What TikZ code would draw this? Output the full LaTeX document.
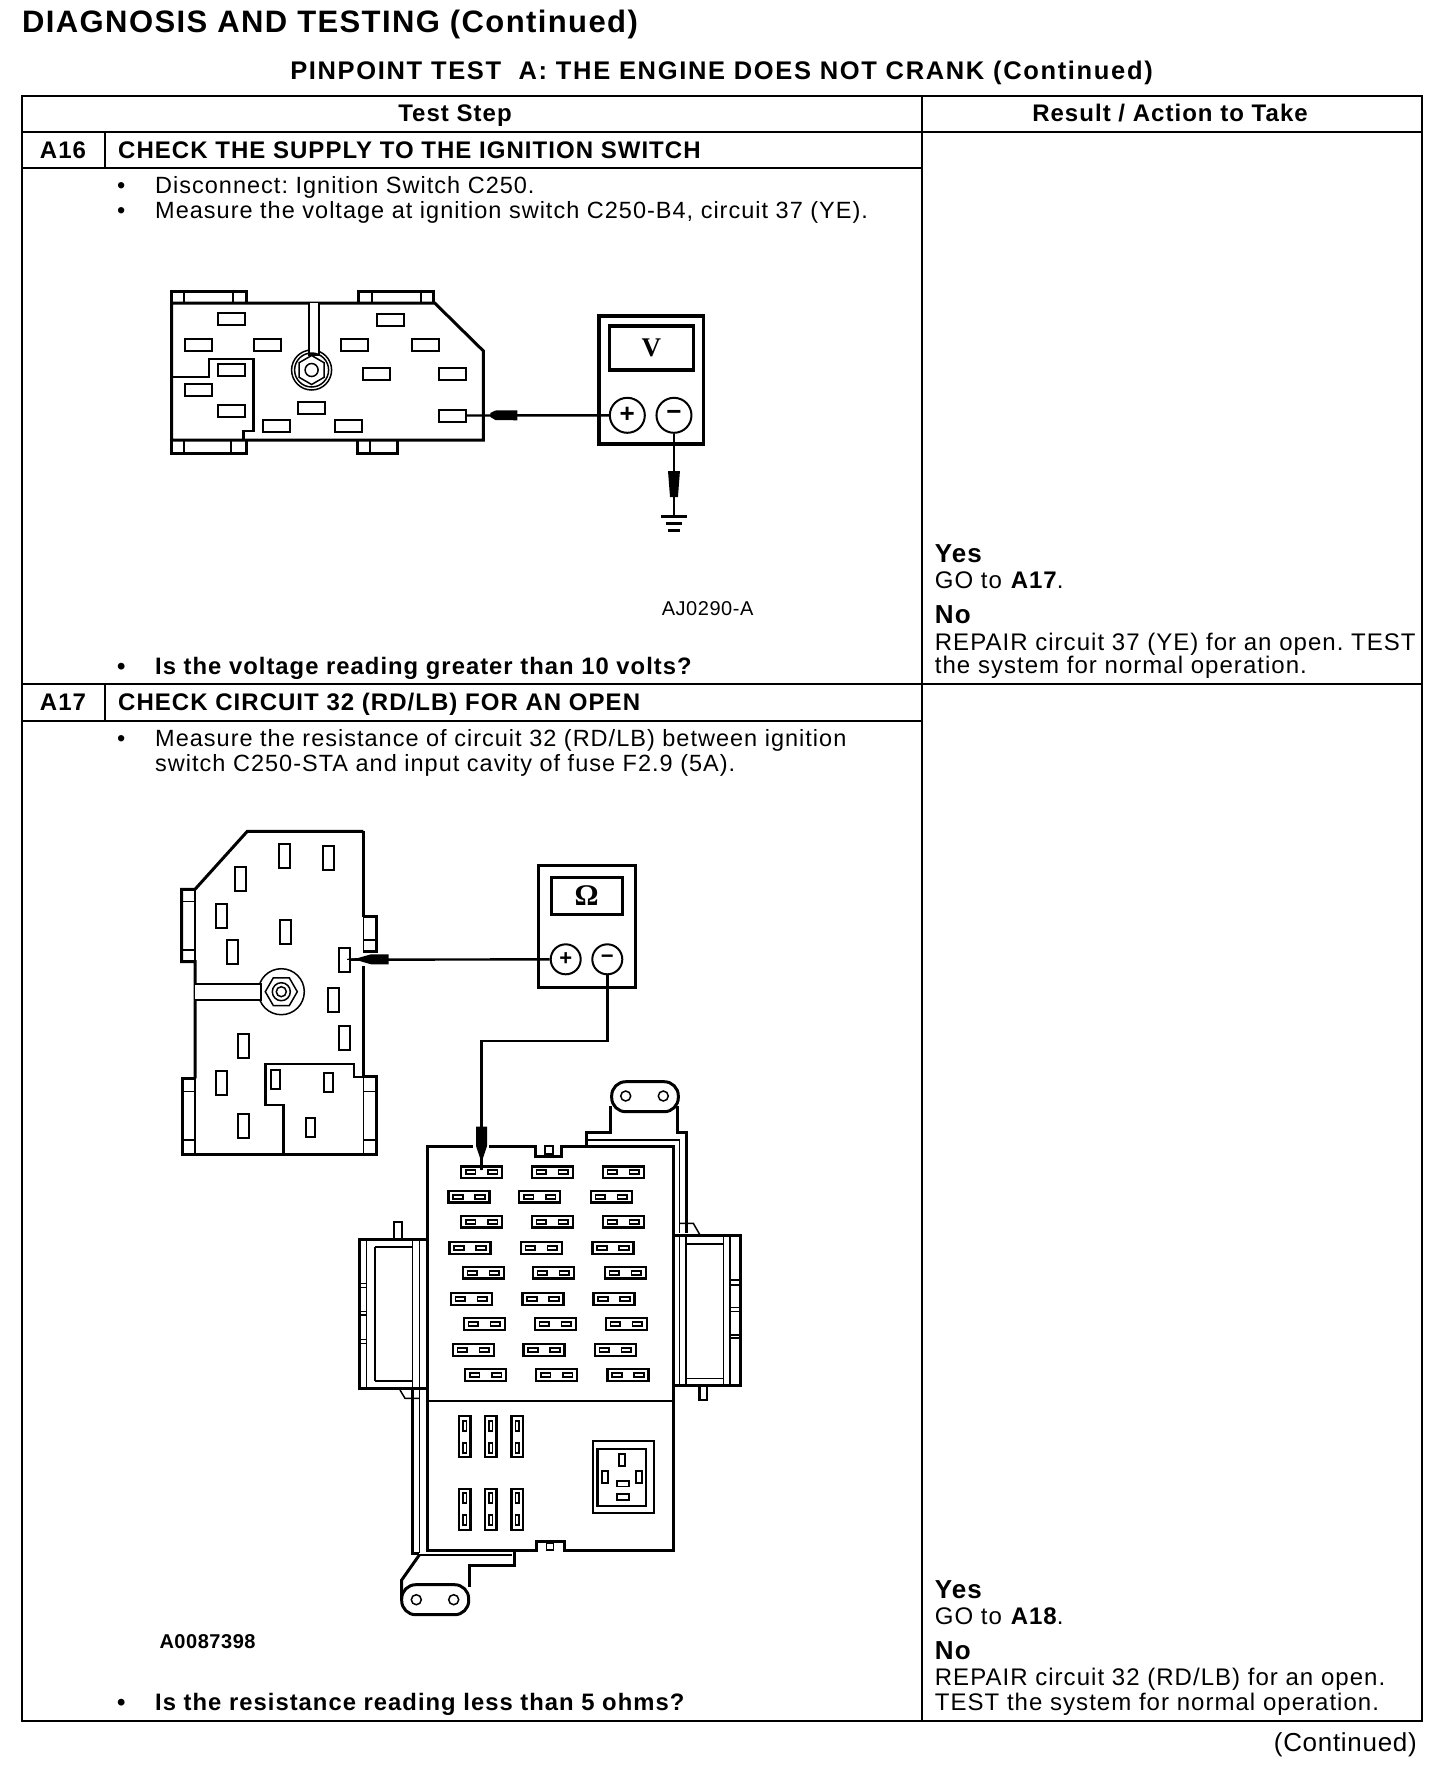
\documentclass[tikz,border=0pt]{standalone}
\usepackage{fontspec}
\usetikzlibrary{shapes.geometric}
\setmainfont[LetterSpace=4.3]{Liberation Sans}
\newfontfamily\labelfont[LetterSpace=2.7]{Liberation Sans}
\newfontfamily\headfont[LetterSpace=4.5]{Liberation Sans}
\newfontfamily\subfont[LetterSpace=6.5]{Liberation Sans}
\newfontfamily\dialfont{Liberation Serif}
\frenchspacing
\tikzset{
  txt/.style={anchor=base west,inner sep=0pt,font=\fontsize{23.5}{24}\selectfont},
  txtr/.style={anchor=base west,inner sep=0pt,font=\fontsize{24}{24}\selectfont},
  txtb/.style={anchor=base west,inner sep=0pt,font=\fontsize{24}{24}\selectfont\bfseries},
  txtq/.style={anchor=base west,inner sep=0pt,font=\fontsize{23.8}{24}\selectfont\bfseries},
  txtc/.style={txtb,anchor=base},
  bigb/.style={anchor=base west,inner sep=0pt,font=\fontsize{26}{26}\selectfont\bfseries},
  rule/.style={line width=2.2pt},
  wall/.style={line width=3pt,miter limit=4},
  wire/.style={line width=2.4pt},
  thinl/.style={line width=1.5pt},
  slotv/.style={rectangle,draw,line width=2pt,fill=white,inner sep=0pt,minimum width=11pt,minimum height=24pt},
  sloth/.style={rectangle,draw,line width=2pt,fill=white,inner sep=0pt,minimum width=27pt,minimum height=12pt},
  fuse/.style={rectangle,draw,line width=2.4pt,fill=white,inner sep=0pt,minimum width=41pt,minimum height=11.5pt},
  fusev/.style={rectangle,draw,line width=2.4pt,fill=white,inner sep=0pt,minimum width=11.5pt,minimum height=41pt},
  fuseslot/.style={rectangle,draw,line width=1.8pt,inner sep=0pt,minimum width=9.5pt,minimum height=4pt},
  fuseslotv/.style={rectangle,draw,line width=1.8pt,inner sep=0pt,minimum width=3.5pt,minimum height=10pt},
  jack/.style={circle,draw,line width=2pt,fill=white,inner sep=0pt,font=\fontsize{26}{26}\selectfont\bfseries},
  hole/.style={circle,draw,line width=1.5pt,inner sep=0pt,minimum size=10pt},
  relay/.style={rectangle,draw,line width=1.8pt,inner sep=0pt},
}
\begin{document}
\begin{tikzpicture}[x=1pt,y=-1pt]
\useasboundingbox (0,0) rectangle (1456,1770);
\fill[white] (0,0) rectangle (1456,1770);
% headings
\node[anchor=base west,inner sep=0pt,font=\fontsize{31}{32}\selectfont\bfseries\headfont] (title) at (22,32) {DIAGNOSIS AND TESTING (Continued)};
\node[anchor=base,inner sep=0pt,font=\fontsize{25.5}{26}\selectfont\bfseries\subfont] (subtitle) at (721.5,79) {PINPOINT TEST\ \ A: THE ENGINE DOES NOT CRANK (Continued)};
% table
\draw[rule] (22,96) rectangle (1422,1720.6);
\draw[rule] (922,96) -- (922,1720.6);
\draw[rule] (22,132) -- (1422,132) (22,168) -- (922,168) (105,132) -- (105,168);
\draw[rule] (22,684) -- (1422,684) (22,720.7) -- (922,720.7) (105,684) -- (105,720.7);
\node[txtc] (stephead) at (455,121.7) {Test Step};
\node[txtc] (resulthead) at (1170,121.7) {Result / Action to Take};
% A16 text
\node[txtc] (a16) at (63,158) {A16};
\node[txtb] (a16head) at (118,158) {CHECK THE SUPPLY TO THE IGNITION SWITCH};
\node[txt] (b1) at (117,193) {•};
\node[txt] (s1) at (155,193) {Disconnect: Ignition Switch C250.};
\node[txt] (b2) at (117,218) {•};
\node[txt] (s2) at (155,218) {Measure the voltage at ignition switch C250-B4, circuit 37 (YE).};
\node[txt,font=\fontsize{20}{22}\selectfont\labelfont] (fig16) at (661.6,615) {AJ0290-A};
\node[txtq] (b3) at (117,674) {•};
\node[txtq] (q16) at (155,674) {Is the voltage reading greater than 10 volts?};
\node[bigb] (yes16) at (934.7,562.3) {Yes};
\node[txtr] (go16) at (934.7,588.3) {GO to \textbf{A17}.};
\node[bigb] (no16) at (934.7,623.3) {No};
\node[txtr] (r16a) at (934.7,650) {REPAIR circuit 37 (YE) for an open. TEST};
\node[txtr] (r16b) at (934.7,673.3) {the system for normal operation.};
% A17 text
\node[txtc] (a17) at (63,710) {A17};
\node[txtb] (a17head) at (118,710) {CHECK CIRCUIT 32 (RD/LB) FOR AN OPEN};
\node[txt] (b4) at (117,746.5) {•};
\node[txt] (s3) at (155,746.5) {Measure the resistance of circuit 32 (RD/LB) between ignition};
\node[txt] (s4) at (155,771.7) {switch C250-STA and input cavity of fuse F2.9 (5A).};
\node[txt,font=\fontsize{20}{22}\selectfont\bfseries\labelfont] (fig17) at (159.3,1648.3) {A0087398};
\node[txtq] (b5) at (117,1710) {•};
\node[txtq] (q17) at (155,1710) {Is the resistance reading less than 5 ohms?};
\node[bigb] (yes17) at (934.7,1598.8) {Yes};
\node[txtr] (go17) at (934.7,1624.3) {GO to \textbf{A18}.};
\node[bigb] (no17) at (934.7,1659.3) {No};
\node[txtr] (r17a) at (934.7,1685) {REPAIR circuit 32 (RD/LB) for an open.};
\node[txtr] (r17b) at (934.7,1710) {TEST the system for normal operation.};
\node[anchor=base east,inner sep=0pt,font=\fontsize{26}{28}\selectfont\labelfont] (cont) at (1417,1751) {(Continued)};
% ignition switch, A16
\begin{scope}[x=0.995pt,xshift=0.86pt]
\draw[wall] (171.5,303) -- (436,303) -- (485,351) -- (485,440) -- (171.5,440) -- cycle;
\draw[wall] (171.5,303) -- (171.5,291) -- (247,291) -- (247,303) (359,303) -- (359,291) -- (435,291) -- (435,303);
\draw[wall] (171.5,440) -- (171.5,453) -- (247,453) -- (247,440) (358.5,440) -- (358.5,453) -- (399,453) -- (399,440);
\draw[thinl] (184,291) -- (184,303) (233.5,291) -- (233.5,303) (373,291) -- (373,303) (422,291) -- (422,303);
\draw[thinl] (184,440) -- (184,453) (231.5,440) -- (231.5,453) (371,440) -- (371,453);
\draw[wire] (171.5,377) -- (209,377) -- (209,359) -- (254,359) -- (254,431) -- (244,431) -- (244,440);
\foreach \xx/\yy in {232/319,198.5/345,268/345,392/320,355/345,426.5/345,231.5/370,198.5/390,231.5/411,377.7/374,454/374,312/408,277/426,349.6/426}
  \node[sloth] at (\xx,\yy) {};
\node[sloth] (term16) at (454,415.5) {};
\node[circle,draw,thinl,fill=white,minimum size=40pt,inner sep=0pt] (nut16) at (312.3,370) {};
\draw[thinl,fill=white] (309.6,303) -- (309.6,355) -- (319.6,355) -- (319.6,303);
\node[circle,draw,thinl,minimum size=34pt,inner sep=0pt] at (312.3,370) {};
\node[regular polygon,regular polygon sides=6,shape border rotate=30,draw,thinl,minimum size=29pt,inner sep=0pt] at (312.3,370) {};
\node[circle,draw,thinl,minimum size=13pt,inner sep=0pt] at (312.3,370) {};
% voltmeter
\node[rectangle,draw,line width=3.5pt,minimum width=104.5pt,minimum height=128pt,inner sep=0pt] (meter16) at (653.5,380) {};
\node[rectangle,draw,line width=3.5pt,minimum width=84pt,minimum height=44pt,inner sep=0pt,font=\fontsize{27}{27}\selectfont\bfseries\dialfont] (dial16) at (653.7,348) {V};
\node[jack,minimum size=35pt] (plus16) at (629.6,415.3) {+};
\node[jack,minimum size=35pt] (minus16) at (676.5,415.3) {−};
\coordinate (gnd16) at (676.5,516.7);
\draw[wire] (term16) -- (plus16);
\draw[wire] (minus16) -- (gnd16);
\fill (519,410.3) -- (519,420.3) -- (497,420) -- (492,417) -- (492,413) -- (497,410.5) -- cycle;
\fill (670.5,471) -- (682.5,471) -- (680.5,497) -- (672.5,497) -- cycle;
\draw[line width=2.5pt] (663.5,516.7) -- (689.5,516.7) (668,523.5) -- (685,523.5);
\draw[line width=3pt] (670.5,530) -- (682.5,530);
\end{scope}
% ignition switch, A17
\draw[wall] (195,1078.3) -- (195,961.7) -- (181.7,961.7) -- (181.7,889.3) -- (195,889.3) -- (247.3,831.3) -- (363.3,831.3);
\draw[wire] (363.3,831.3) -- (363.3,916.7);
\draw[wall] (363.3,916.7) -- (376.7,916.7) -- (376.7,951.7) -- (363.3,951.7);
\draw[wire] (363.3,966) -- (363.3,1076.7);
\draw[wall] (363.3,1076.7) -- (376.7,1076.7) -- (376.7,1154) -- (182.7,1154) -- (182.7,1078.3) -- (195,1078.3);
\draw[thinl] (181.7,901.7) -- (195,901.7) (181.7,950) -- (195,950) (363.3,940) -- (376.7,940) (182.7,1091.7) -- (195,1091.7) (182.7,1140) -- (195,1140);
\draw[thinl] (363.3,1091.7) -- (376.7,1091.7) (363.3,1140) -- (376.7,1140) (363.3,1076.7) -- (363.3,1154) (195,1078.3) -- (195,1154);
\draw[thinl] (195,889.3) -- (195,961.7) (363.3,916.7) -- (363.3,951.7);
\draw[wire] (283.3,1154) -- (283.3,1105) -- (265.3,1105) -- (265.3,1064) -- (354,1064) -- (354,1076.7) -- (363.3,1076.7);
\foreach \xx/\yy in {284/855.7,328/857.7,240.3/878.7,221.3/915.7,285/931.7,232.7/951.7,333.3/1000.3,344/1037.7,243/1045.7,221/1082.7,243.3/1126}
  \node[slotv] at (\xx,\yy) {};
\foreach \xx/\yy in {275.3/1079.3,328.3/1082,310.7/1127.3}
  \node[slotv,minimum width=8.5pt,minimum height=19pt] at (\xx,\yy) {};
\node[slotv] (term17) at (344,959.7) {};
\node[circle,draw,thinl,minimum size=46pt,inner sep=0pt,fill=white] (nut17) at (281.3,991.7) {};
\draw[thinl,fill=white] (195,984) -- (261,984) -- (261,1000) -- (195,1000);
\node[regular polygon,regular polygon sides=6,draw,thinl,minimum size=32pt,inner sep=0pt] at (281.3,991.7) {};
\node[circle,draw,thinl,minimum size=18pt,inner sep=0pt] at (281.3,991.7) {};
\node[circle,draw,thinl,minimum size=10pt,inner sep=0pt] at (281.3,991.7) {};
% ohmmeter
\node[rectangle,draw,line width=3.5pt,minimum width=97pt,minimum height=121.6pt,inner sep=0pt] (meter17) at (586.8,926.5) {};
\node[rectangle,draw,line width=3pt,minimum width=71.3pt,minimum height=37.7pt,inner sep=0pt,font=\fontsize{30}{30}\selectfont\bfseries\dialfont] (dial17) at (586.7,896) {Ω};
\node[jack,minimum size=30pt,font=\fontsize{22}{22}\selectfont\bfseries] (plus17) at (565.7,959.3) {+};
\node[jack,minimum size=30pt,font=\fontsize{22}{22}\selectfont\bfseries] (minus17) at (607.3,959.3) {−};
\coordinate (turn1) at (607.3,1040.7);
\coordinate (turn2) at (481.5,1040.7);
\coordinate (tip17) at (481.5,1170);
\draw[wire] (term17) -- (plus17);
\draw[wire] (minus17) -- (turn1) -- (turn2) -- (tip17);
\fill (388.7,954.3) -- (388.7,964.3) -- (371,964.3) -- (358,960.5) -- (347,959.8) -- (347,958.8) -- (358,958) -- (371,954.3) -- cycle;
% fuse box
\draw[wall] (473,1146) -- (427.3,1146) -- (427.3,1550.7) -- (536.7,1550.7) -- (536.7,1541.7) -- (564,1541.7) -- (564,1550.7) -- (673.3,1550.7) -- (673.3,1146) -- (561.7,1146) -- (561.7,1156) -- (535,1156) -- (535,1146) -- (488.5,1146);
\draw[wire] (427.3,1401) -- (673.3,1401);
\draw[thinl] (545,1146) rectangle (553,1154);
\draw[thinl] (546.7,1543) rectangle (553.3,1550);
\foreach \yy/\xa/\xb/\xc [count=\r] in {1172.3/481.7/552.3/623.3,1196.7/469/539.7/611.3,1221.7/481.7/552.3/623.3,1248/470/541.3/613,1272.7/483.3/553.3/625.3,1299/471.3/543/614,1324/484.3/555.3/626.3,1350/473.3/544/615.3,1375/485.7/556.7/628}
  \foreach \xx [count=\c] in {\xa,\xb,\xc} {
    \node[fuse] (fuse\r-\c) at (\xx,\yy) {};
    \node[fuseslot] at (\xx-11,\yy) {};
    \node[fuseslot] at (\xx+11,\yy) {};
  }
\foreach \xx in {464.7,490.7,517.3}
  \foreach \yy in {1436.7,1509.3} {
    \node[fusev] at (\xx,\yy) {};
    \node[fuseslotv] at (\xx,\yy-11) {};
    \node[fuseslotv] at (\xx,\yy+11) {};
  }
\draw[wire] (tip17) -- (turn2);
\fill (476,1126.7) -- (487,1126.7) -- (487,1146) -- (483,1158) -- (482,1170) -- (480.7,1170) -- (480,1158) -- (476,1146) -- cycle;
% relay socket
\node[relay,minimum width=61.6pt,minimum height=72.6pt] (relay) at (623.5,1477) {};
\node[relay,line width=2.6pt,minimum width=48.3pt,minimum height=57pt] (relayin) at (621.8,1477.5) {};
\node[relay,minimum width=6pt,minimum height=12pt] at (622,1460) {};
\node[relay,minimum width=6pt,minimum height=12pt] at (605.3,1476.7) {};
\node[relay,minimum width=6pt,minimum height=12pt] at (639.3,1476.7) {};
\node[relay,minimum width=12.5pt,minimum height=5.5pt] at (623,1483.7) {};
\node[relay,minimum width=12.5pt,minimum height=5.5pt] at (623,1497) {};
% top bracket
\node[rectangle,rounded corners=14pt,draw,wall,fill=white,minimum width=66.6pt,minimum height=30pt,inner sep=0pt] (eartop) at (645,1096.7) {};
\node[hole] at (625.7,1096) {};
\node[hole] at (663.3,1096) {};
\draw[wall] (610.7,1106) -- (610.7,1132.7) -- (586,1132.7) -- (586,1146);
\draw[wall] (677.3,1106) -- (677.3,1132.7) -- (686.7,1132.7) -- (686.7,1233);
\draw[thinl] (586,1140) -- (679.3,1140) -- (679.3,1233);
% right connector
\draw[wall] (673.3,1235) -- (740,1235) -- (740,1385) -- (673.3,1385);
\draw[thinl] (679.3,1235) -- (679.3,1385) (686,1235) -- (686,1385) (723.3,1235) -- (723.3,1385) (730,1235) -- (730,1385);
\draw[thinl] (686,1244) -- (723.3,1244) (686,1378.3) -- (723.3,1378.3);
\draw[thinl] (730,1280) -- (740,1280) (730,1285) -- (740,1285) (730,1307.3) -- (740,1307.3) (730,1311.7) -- (740,1311.7) (730,1335) -- (740,1335) (730,1338) -- (740,1338);
\draw[wire] (699.3,1385) -- (699.3,1400) -- (706.7,1400) -- (706.7,1385);
\draw[thinl] (679.3,1223.3) -- (693.3,1223.3) -- (700,1235);
% left connector
\draw[wall] (427,1239.3) -- (359.3,1239.3) -- (359.3,1388.3) -- (427,1388.3);
\draw[thinl] (366.7,1239.3) -- (366.7,1388.3) (412.7,1239.3) -- (412.7,1388.3) (419.3,1239.3) -- (419.3,1388.3);
\draw[wire] (375,1246.7) -- (412.7,1246.7) (375,1380.7) -- (412.7,1380.7) (375,1246.7) -- (375,1380.7);
\draw[thinl] (359.3,1283.3) -- (366.7,1283.3) (359.3,1287.3) -- (366.7,1287.3) (359.3,1311.7) -- (366.7,1311.7) (359.3,1315) -- (366.7,1315) (359.3,1339.3) -- (366.7,1339.3) (359.3,1343.3) -- (366.7,1343.3);
\draw[wire] (394,1239.3) -- (394,1221.7) -- (402,1221.7) -- (402,1239.3);
\draw[thinl] (400,1390) -- (405,1398.3) -- (419.3,1398.3);
% bottom bracket
\draw[wall] (412.7,1388.3) -- (412.7,1553.3) -- (419.3,1553.3);
\draw[thinl] (419.3,1388.3) -- (419.3,1553.3) (419.3,1555) -- (511.7,1555);
\draw[wall] (514,1551.7) -- (514,1565) -- (469.3,1565) -- (469.3,1586.7);
\draw[wall] (419.3,1555) -- (401.7,1580) -- (401.7,1598);
\node[rectangle,rounded corners=14pt,draw,wall,fill=white,minimum width=67pt,minimum height=30pt,inner sep=0pt] (earbot) at (435.2,1599.7) {};
\node[hole] at (416.3,1599.7) {};
\node[hole] at (453.7,1599.7) {};
\end{tikzpicture}
\end{document}
